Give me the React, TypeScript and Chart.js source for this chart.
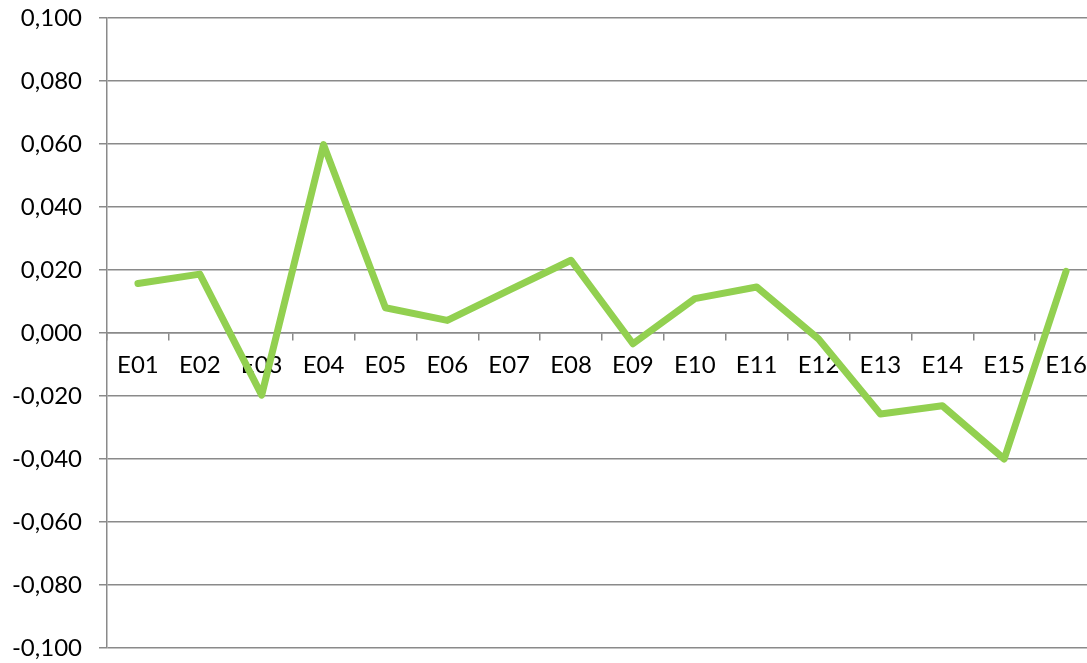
import React, { useEffect, useRef } from "react";
import { Chart, registerables } from "chart.js";

Chart.register(...registerables);

// Category labels along the horizontal axis
const categories: string[] = [
  "E01", "E02", "E03", "E04", "E05", "E06", "E07", "E08",
  "E09", "E10", "E11", "E12", "E13", "E14", "E15", "E16",
];

// Series values per category
const values: number[] = [
  0.0157, 0.0187, -0.0197, 0.0598, 0.0080, 0.0040, 0.0136, 0.0231,
  -0.0034, 0.0109, 0.0146, -0.0019, -0.0257, -0.0231, -0.0400, 0.0196,
];

// Value axis range and step
const yMin = -0.1;
const yMax = 0.1;
const yStep = 0.02;

const GRID = "#8a8a8a";
const FONT = { family: "Lato, 'Liberation Sans', sans-serif", size: 24 };

function formatTick(v: number): string {
  const n = Math.abs(v) < 1e-9 ? 0 : v;
  return n.toFixed(3).replace(".", ",");
}

export default function App() {
  const canvasRef = useRef<HTMLCanvasElement | null>(null);

  useEffect(() => {
    const canvas = canvasRef.current;
    if (!canvas) return;
    const chart = new Chart(canvas, {
      type: "line",
      data: {
        labels: categories,
        datasets: [
          {
            data: values,
            borderColor: "#92d050",
            borderWidth: 7,
            borderJoinStyle: "round",
            borderCapStyle: "round",
            pointRadius: 0,
            pointHoverRadius: 0,
            fill: false,
            tension: 0,
          },
        ],
      },
      options: {
        animation: false,
        responsive: false,
        events: [],
        layout: { padding: { top: 18, bottom: 15, left: 0, right: 0 } },
        plugins: {
          legend: { display: false },
          tooltip: { enabled: false },
        },
        scales: {
          y: {
            type: "linear",
            min: yMin,
            max: yMax,
            afterFit: (scale: any) => {
              scale.width = 107;
              scale.paddingTop = 0;
              scale.paddingBottom = 0;
            },
            ticks: {
              stepSize: yStep,
              padding: 17,
              color: "#000",
              font: FONT,
              callback: (v: any) => formatTick(Number(v)),
            },
            grid: {
              color: GRID,
              lineWidth: 1.5,
              tickLength: 8,
            },
            border: { color: GRID, width: 1.5 },
          },
          x: {
            type: "category",
            position: { y: 0 } as any,
            offset: true,
            afterFit: (scale: any) => {
              scale.paddingTop = 0;
              scale.paddingBottom = 0;
              scale.paddingLeft = 0;
              scale.paddingRight = 0;
            },
            ticks: {
              padding: 11,
              color: "#000",
              font: FONT,
              maxRotation: 0,
              autoSkip: false,
            },
            grid: {
              offset: true,
              drawOnChartArea: false,
              color: GRID,
              lineWidth: 1.5,
              tickLength: 7,
            },
            border: { color: GRID, width: 1.5 },
          },
        },
      },
    });
    return () => chart.destroy();
  }, []);

  return (
    <div
      style={{
        position: "fixed",
        left: 0,
        top: 0,
        width: "100vw",
        height: "100vh",
        overflow: "hidden",
        background: "#fff",
      }}
    >
      <canvas
        ref={canvasRef}
        width={1097}
        height={663}
        style={{ display: "block", width: 1097, height: 663 }}
      />
    </div>
  );
}
